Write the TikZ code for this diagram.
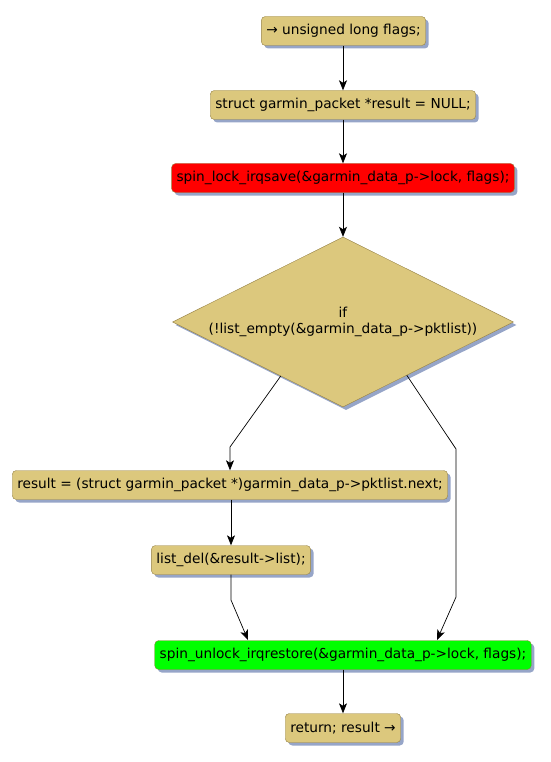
\documentclass[tikz,border=0pt]{standalone}
\usepackage{fontspec}
\setmainfont{DejaVu Sans}
\usetikzlibrary{shapes.geometric,shadows,arrows.meta,calc}
\definecolor{tan}{RGB}{220,200,125}
\definecolor{tanborder}{RGB}{150,130,70}
\definecolor{shadowcol}{RGB}{150,165,200}
\tikzset{
  stmt/.style={draw=tanborder, fill=tan, rounded corners=4pt, inner xsep=5pt, minimum height=29pt,
    font=\fontsize{13.7}{16}\selectfont, drop shadow={shadow xshift=3pt, shadow yshift=-3pt, fill=shadowcol, opacity=1}},
  decide/.style={draw=tanborder, fill=tan, shape=diamond, shape aspect=2, inner sep=0pt, minimum width=341pt, minimum height=170pt,
    align=center, font=\fontsize{13.7}{16}\selectfont, drop shadow={shadow xshift=3pt, shadow yshift=-3pt, fill=shadowcol, opacity=1}},
  flow/.style={draw=black, line width=0.7pt, -{Stealth[length=10pt,width=8pt,inset=2.5pt]}}
}
\begin{document}
\begin{tikzpicture}[x=1pt,y=-1pt]
\useasboundingbox (0,0) rectangle (550,762);
\node[stmt] (n1) at (343.5,31) {→ unsigned long flags;};
\node[stmt] (n2) at (343,105) {struct garmin\_packet *result = NULL;};
\node[stmt, fill=red] (n3) at (343,178) {spin\_lock\_irqsave(\&garmin\_data\_p->lock, flags);};
\node[decide] (d) at (343,322) {if\\(!list\_empty(\&garmin\_data\_p->pktlist))};
\node[stmt] (n5) at (230,485) {result = (struct garmin\_packet *)garmin\_data\_p->pktlist.next;};
\node[stmt] (n6) at (231,560) {list\_del(\&result->list);};
\node[stmt, fill=green] (n7) at (343,655) {spin\_unlock\_irqrestore(\&garmin\_data\_p->lock, flags);};
\node[stmt] (n8) at (343,728) {return; result →};
\coordinate (dl) at ($(d.west)!0.635!(d.south)$);
\coordinate (dr) at ($(d.south)!0.374!(d.east)$);
\coordinate (b1) at (230,447);
\coordinate (b2) at (456,449);
\coordinate (b3) at (456,597);
\coordinate (b4) at (231,600);
\draw[flow] (n2.north |- n1.south) -- (n2.north);
\draw[flow] (n2) -- (n3);
\draw[flow] (n3) -- (d);
\draw[flow] (dl) -- (b1) -- (n5.north -| b1);
\draw[flow] (n5.south -| n6) -- (n6);
\draw[flow] (n6.south) -- (b4) -- (248,640);
\draw[flow] (dr) -- (b2) -- (b3) -- (437,640);
\draw[flow] (n7) -- (n8);
\end{tikzpicture}
\end{document}
